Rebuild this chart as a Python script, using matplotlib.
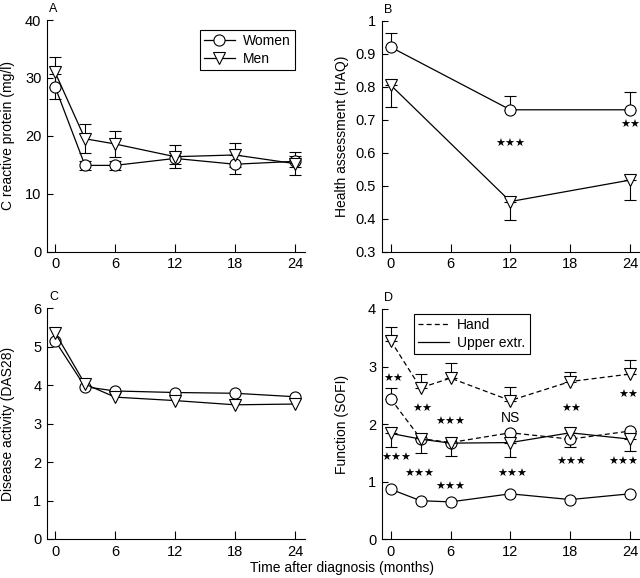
import numpy as np
import matplotlib
matplotlib.use('Agg')
import matplotlib.pyplot as plt

plt.rcParams['font.family'] = ['Liberation Sans', 'DejaVu Sans']
plt.rcParams['font.size'] = 10

months = [0, 3, 6, 12, 18, 24]
months_haq = [0, 12, 24]
xticks = [0, 6, 12, 18, 24]

# A: C reactive protein
crp_women = [28.5, 14.9, 14.9, 16.1, 15.1, 15.6]
crp_women_err = [2.2, 0.8, 0.8, 1.0, 1.6, 1.0]
crp_men = [31.0, 19.5, 18.6, 16.4, 16.7, 15.2]
crp_men_err = [2.6, 2.5, 2.3, 2.0, 2.1, 1.95]

# B: HAQ (women upper error, men lower error)
haq_women = [0.92, 0.73, 0.73]
haq_women_err = [0.044, 0.043, 0.053]
haq_men = [0.805, 0.452, 0.517]
haq_men_err = [0.067, 0.056, 0.06]

# C: DAS28
das_women = [5.16, 3.96, 3.85, 3.81, 3.79, 3.70]
das_men = [5.37, 4.03, 3.69, 3.60, 3.49, 3.51]

# D: SOFI
hand_women = [2.44, 1.75, 1.68, 1.85, 1.74, 1.88]
hand_women_err = [0.19, 0, 0, 0, 0, 0]
hand_men = [3.45, 2.63, 2.80, 2.41, 2.74, 2.87]
hand_men_err = [0.24, 0.24, 0.26, 0.24, 0.17, 0.24]
upper_women = [0.87, 0.67, 0.65, 0.79, 0.69, 0.79]
upper_men = [1.84, 1.74, 1.67, 1.68, 1.85, 1.74]
upper_men_err = [0.23, 0.24, 0.22, 0.25, 0.24, 0.21]

# significance labels
haq_sig_x = [12, 24]
haq_sig_y = [0.628, 0.683]
haq_sig = ['★★★', '★★']
sofi_sig_x = [0.3, 3.2, 5.95, 12.0, 18.1, 23.8, 0.6, 2.9, 5.95, 12.2, 18.1, 23.3]
sofi_sig_y = [2.78, 2.27, 2.03, 2.10, 2.26, 2.50, 1.41, 1.13, 0.91, 1.13, 1.35, 1.35]
sofi_sig = ['★★', '★★', '★★★', 'NS', '★★', '★★',
            '★★★', '★★★', '★★★', '★★★', '★★★', '★★★']

fig = plt.figure(figsize=(6.4, 5.78), dpi=100)
W, H = 640, 578
dash = (0, (4, 2.5))


def make_ax(left, top, right, bottom):
    return fig.add_axes([left / W, 1 - bottom / H, (right - left) / W, (bottom - top) / H])


def style(ax, ylim, yticks, ylabels, xlim, letter, ylabel):
    ax.spines['top'].set_visible(False)
    ax.spines['right'].set_visible(False)
    for s in ('left', 'bottom'):
        ax.spines[s].set_linewidth(0.8)
    ax.set_xlim(*xlim)
    ax.set_ylim(*ylim)
    ax.set_xticks(xticks)
    ax.set_yticks(yticks)
    ax.set_yticklabels(ylabels)
    ax.tick_params(direction='in', width=0.8, labelsize=10.5, pad=4)
    ax.tick_params(axis='x', length=5.5)
    ax.tick_params(axis='y', length=4.5)
    ax.set_ylabel(ylabel, fontsize=10)
    ax.yaxis.set_label_coords(-0.125, 0.5)
    ax.text(0.008, 1.035, letter, transform=ax.transAxes, fontsize=9, va='baseline')


def series(ax, x, y, marker, err=None, ls='-'):
    if err is not None:
        ax.errorbar(x, y, yerr=err, fmt='none', ecolor='black', elinewidth=0.8,
                    capsize=4, capthick=0.8, zorder=1)
    ax.plot(x, y, ls=ls, color='black', lw=0.9, marker=marker, ms=8,
            mfc='white', mec='black', mew=0.8, zorder=3)


def legend(ax, handles, labels, anchor):
    leg = ax.legend(handles, labels, loc='upper left', bbox_to_anchor=anchor,
                    borderaxespad=0, fancybox=False, edgecolor='black', fontsize=10,
                    handlelength=2.2, handletextpad=0.6, labelspacing=0.25,
                    borderpad=0.3, framealpha=1)
    leg.get_frame().set_linewidth(0.8)


mk_w, mk_m = 'o', 'v'

# Panel A
axA = make_ax(47, 20, 305, 251.7)
series(axA, months, crp_women, mk_w, crp_women_err)
series(axA, months, crp_men, mk_m, crp_men_err)
style(axA, (0, 40), [0, 10, 20, 30, 40], ['0', '10', '20', '30', '40'], (-0.8, 25), 'A',
      'C reactive protein (mg/l)')
hw = axA.plot([], [], color='black', lw=0.9, marker=mk_w, ms=8, mfc='white', mec='black', mew=0.8)[0]
hm = axA.plot([], [], color='black', lw=0.9, marker=mk_m, ms=8, mfc='white', mec='black', mew=0.8)[0]
legend(axA, [hw, hm], ['Women', 'Men'], (0.593, 0.957))

# Panel B
axB = make_ax(381.7, 20.7, 640, 251.7)
series(axB, months_haq, haq_women, mk_w, [[0, 0, 0], haq_women_err])
series(axB, months_haq, haq_men, mk_m, [haq_men_err, [0, 0, 0]])
style(axB, (0.3, 1.0), [0.3, 0.4, 0.5, 0.6, 0.7, 0.8, 0.9, 1.0],
      ['0.3', '0.4', '0.5', '0.6', '0.7', '0.8', '0.9', '1'], (-0.9, 25), 'B',
      'Health assessment (HAQ)')
for x, y, s in zip(haq_sig_x, haq_sig_y, haq_sig):
    axB.text(x, y, s, ha='center', va='center', fontsize=8, family='DejaVu Sans')

# Panel C
axC = make_ax(47, 308.3, 305, 539)
series(axC, months, das_women, mk_w)
series(axC, months, das_men, mk_m)
style(axC, (0, 6), range(7), [str(i) for i in range(7)], (-0.8, 25), 'C',
      'Disease activity (DAS28)')

# Panel D
axD = make_ax(381.7, 309, 640, 539.3)
series(axD, months, hand_women, mk_w, [[0] * 6, hand_women_err], ls=dash)
series(axD, months, hand_men, mk_m, [[0] * 6, hand_men_err], ls=dash)
series(axD, months, upper_women, mk_w)
series(axD, months, upper_men, mk_m, [upper_men_err, [0] * 6])
style(axD, (0, 4), range(5), [str(i) for i in range(5)], (-0.9, 25), 'D', 'Function (SOFI)')
for x, y, s in zip(sofi_sig_x, sofi_sig_y, sofi_sig):
    if s == 'NS':
        axD.text(x, y, s, ha='center', va='center', fontsize=10)
    else:
        axD.text(x, y, s, ha='center', va='center', fontsize=8, family='DejaVu Sans')
hh = axD.plot([], [], color='black', lw=0.9, ls=dash)[0]
hu = axD.plot([], [], color='black', lw=0.9)[0]
legend(axD, [hh, hu], ['Hand', 'Upper extr.'], (0.126, 0.978))

fig.text(0.535, 10 / H, 'Time after diagnosis (months)', ha='center', va='center', fontsize=10)

fig.savefig('out.png', dpi=100)
